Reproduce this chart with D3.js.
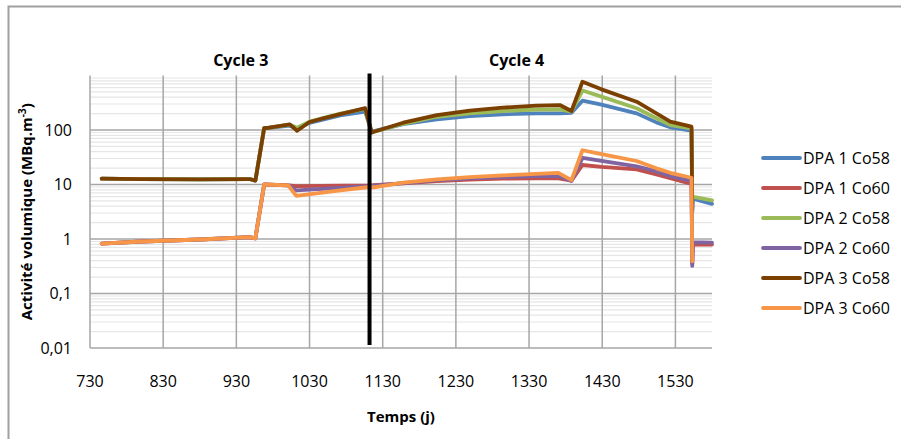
<!DOCTYPE html>
<html><head><meta charset="utf-8">
<script src="https://cdn.jsdelivr.net/npm/d3@7"></script>
<style>body{margin:0;background:#fff}svg{display:block}text{font-family:"Open Sans",sans-serif;fill:#000}</style>
</head><body><svg id="c" width="901" height="439"></svg>
<script>
const seriesNames = ["DPA 1 Co58","DPA 1 Co60","DPA 2 Co58","DPA 2 Co60","DPA 3 Co58","DPA 3 Co60"];
const seriesColors = ["#4F81BD","#C0504D","#9BBB59","#8064A2","#7B3F00","#F79646"];
const xTicks = [730,830,930,1030,1130,1230,1330,1430,1530];
const yTicks = [0.01,0.1,1,10,100];
const yTickLabels = ["0,01","0,1","1","10","100"];
const cycleLabels = [{text:"Cycle 3", day:936},{text:"Cycle 4", day:1313}];
const cycleBoundary = 1112;

const dpa1Co58 = [[746,12.8],[800,12.5],[880,12.4],[948,12.6],[956,11.8],[968,108],[975,110],[1003,120],[1013,106],[1030,135],[1072,185],[1106,218],[1115,90],[1118,95],[1158,128],[1204,157],[1249,180],[1294,194],[1340,202],[1372,202],[1388,207],[1403,345],[1429,292],[1477,202],[1504,138],[1523,112],[1552,97],[1553,3],[1554,5.5],[1580,4.4]];
const dpa1Co60 = [[746,0.82],[800,0.9],[880,0.98],[948,1.08],[956,1.03],[968,10.0],[1001,9.6],[1012,9.3],[1112,9.6],[1158,10.5],[1204,11.6],[1249,12.3],[1294,12.8],[1340,13.0],[1370,13.0],[1388,11.8],[1403,22.8],[1429,21],[1477,19],[1504,15.3],[1523,13],[1552,10.3],[1553,0.35],[1554,0.80],[1580,0.79]];
const dpa2Co58 = [[746,12.8],[800,12.5],[880,12.4],[948,12.6],[956,11.8],[968,108],[975,110],[1003,125],[1013,110],[1030,142],[1072,200],[1106,245],[1115,90],[1118,93],[1158,130],[1204,175],[1249,202],[1294,223],[1340,238],[1372,240],[1388,217],[1403,530],[1429,410],[1477,250],[1504,164],[1523,123],[1552,107],[1553,6.0],[1580,5.1]];
const dpa2Co60 = [[746,0.82],[800,0.9],[880,0.98],[948,1.08],[956,1.03],[968,10.0],[1001,9.6],[1012,7.8],[1112,9.3],[1158,10.6],[1204,12],[1249,13],[1294,13.7],[1340,14.2],[1370,14.3],[1388,11.6],[1403,30.8],[1429,27],[1477,21.6],[1504,17.4],[1523,14.3],[1552,11.6],[1553,0.32],[1554,0.88],[1580,0.86]];
const dpa3Co58 = [[746,12.8],[800,12.5],[880,12.4],[948,12.6],[956,11.8],[968,108],[975,110],[1003,127],[1013,97],[1030,140],[1050,165],[1072,195],[1106,252],[1115,90],[1118,93],[1158,136],[1204,188],[1249,226],[1294,257],[1340,279],[1372,287],[1388,223],[1403,770],[1429,557],[1477,331],[1504,202],[1523,142],[1552,115],[1553,3.5]];
const dpa3Co60 = [[746,0.82],[800,0.9],[880,0.98],[948,1.08],[956,1.03],[968,10.0],[1001,9.6],[1012,6.2],[1072,7.8],[1112,9.0],[1118,8.9],[1158,10.8],[1204,12.4],[1249,13.7],[1294,14.7],[1340,15.7],[1370,16.4],[1388,12.0],[1403,42.5],[1429,36],[1477,27],[1504,19.8],[1523,16.4],[1552,13.3],[1553,0.39]];
const seriesData = [dpa1Co58,dpa1Co60,dpa2Co58,dpa2Co60,dpa3Co58,dpa3Co60];

const svg = d3.select("#c");
const m = {l:90, r:712, t:75.5, b:348};
const x = d3.scaleLinear().domain([730,1580]).range([m.l,m.r]);
const y = d3.scaleLog().domain([0.01,1000]).range([m.b,m.t]);

// outer border
svg.append("rect").attr("x",8.5).attr("y",6.5).attr("width",910).attr("height",450)
  .attr("fill","none").attr("stroke","#a0a0a0").attr("stroke-width",2);

// minor gridlines
const minor = [];
for (let e=-2;e<3;e++) for (let k=2;k<=9;k++) minor.push(k*Math.pow(10,e));
svg.append("g").selectAll("line").data(minor).join("line")
  .attr("x1",m.l).attr("x2",m.r).attr("y1",d=>y(d)).attr("y2",d=>y(d))
  .attr("stroke","#e6e6e6").attr("stroke-width",1.2);

// major horizontal
svg.append("g").selectAll("line").data(yTicks.slice(1)).join("line")
  .attr("x1",m.l).attr("x2",m.r).attr("y1",d=>y(d)).attr("y2",d=>y(d))
  .attr("stroke","#a6a6a6").attr("stroke-width",1.5);
// vertical grid
svg.append("g").selectAll("line").data(xTicks).join("line")
  .attr("x1",d=>x(d)).attr("x2",d=>x(d)).attr("y1",m.t).attr("y2",m.b)
  .attr("stroke","#a6a6a6").attr("stroke-width",1.5);
// bottom axis line
svg.append("line").attr("x1",m.l).attr("x2",m.r).attr("y1",y(0.01)).attr("y2",y(0.01))
  .attr("stroke","#a6a6a6").attr("stroke-width",1.5);

// tick labels
svg.append("g").selectAll("text").data(yTicks).join("text")
  .attr("x",m.l-18).attr("y",d=>y(d)+5.5).attr("text-anchor","end").attr("font-size",16)
  .text((d,i)=>yTickLabels[i]);
svg.append("g").selectAll("text").data(xTicks).join("text")
  .attr("x",d=>x(d)).attr("y",387).attr("text-anchor","middle").attr("font-size",16)
  .text(d=>d);

// axis titles
svg.append("text").attr("x",x(1155)).attr("y",422).attr("text-anchor","middle")
  .attr("font-size",15).attr("font-weight","bold").text("Temps (j)");
const yt = svg.append("text").attr("transform",`translate(32,${(m.t+m.b)/2}) rotate(-90)`)
  .attr("text-anchor","middle").attr("font-size",15).attr("font-weight","bold");
yt.append("tspan").text("Activité volumique (MBq.m");
yt.append("tspan").attr("dy",-6).attr("font-size",10).text("-3");
yt.append("tspan").attr("dy",6).text(")");

// cycle labels
svg.append("g").selectAll("text").data(cycleLabels).join("text")
  .attr("x",d=>x(d.day)).attr("y",66).attr("text-anchor","middle")
  .attr("font-size",16).attr("font-weight","bold").text(d=>d.text);

// lines
const line = d3.line().x(d=>x(d[0])).y(d=>y(d[1]));
svg.append("g").selectAll("path").data(seriesData).join("path")
  .attr("d",line).attr("fill","none").attr("stroke",(d,i)=>seriesColors[i])
  .attr("stroke-width",3.8).attr("stroke-linejoin","round").attr("stroke-linecap","round");

// cycle boundary
svg.append("line").attr("x1",x(cycleBoundary)).attr("x2",x(cycleBoundary))
  .attr("y1",m.t-2).attr("y2",m.b-3).attr("stroke","#000").attr("stroke-width",4);

// legend
const lg = svg.append("g").selectAll("g").data(seriesNames).join("g")
  .attr("transform",(d,i)=>`translate(763,${158+i*30})`);
lg.append("line").attr("x1",0).attr("x2",37).attr("stroke",(d,i)=>seriesColors[i])
  .attr("stroke-width",3.8).attr("stroke-linecap","round");
lg.append("text").attr("x",40).attr("y",5.5).attr("font-size",16).text(d=>d);
</script></body></html>
